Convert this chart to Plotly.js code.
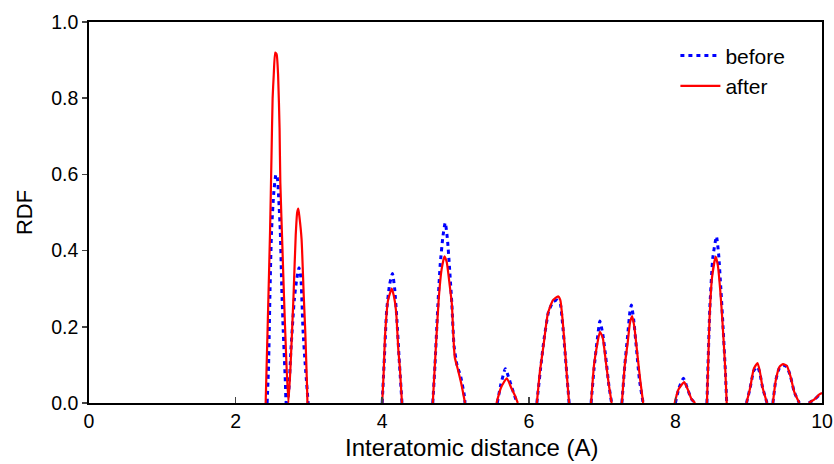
<!DOCTYPE html>
<html>
<head>
<meta charset="utf-8">
<script src="https://cdn.plot.ly/plotly-3.0.1.min.js"></script>
<style>html,body{margin:0;padding:0;background:#fff;}#chart{width:834px;height:464px;}</style>
</head>
<body>
<div id="chart"></div>
<script>
// Interatomic distance (A) for "before" series (null = gap between peaks)
var beforeX = [2.43, 2.45, 2.47, 2.49, 2.52, 2.55, 2.57, 2.59, 2.61, 2.63, 2.65, 2.68, 2.69, 2.72, 2.755, 2.80, 2.83, 2.865, 2.89, 2.92, 2.95, 2.99, null,
  4.0, 4.03, 4.06, 4.10, 4.14, 4.17, 4.20, 4.23, 4.27, null,
  4.69, 4.72, 4.75, 4.79, 4.83, 4.86, 4.89, 4.92, 4.95, 4.98, 5.02, 5.07, 5.12, 5.13, null,
  5.57, 5.62, 5.68, 5.72, 5.77, 5.84, null,
  6.11, 6.16, 6.21, 6.27, 6.33, 6.39, 6.43, 6.46, 6.50, 6.55, null,
  6.85, 6.89, 6.93, 6.97, 7.01, 7.05, 7.09, 7.13, null,
  7.27, 7.31, 7.35, 7.38, 7.40, 7.43, 7.47, 7.51, 7.56, null,
  8.00, 8.05, 8.11, 8.16, 8.22, 8.27, null,
  8.43, 8.445, 8.47, 8.51, 8.56, 8.59, 8.62, 8.65, 8.68, 8.70, null,
  8.97, 9.02, 9.07, 9.12, 9.15, 9.19, 9.25, null,
  9.33, 9.37, 9.42, 9.47, 9.52, 9.57, 9.62, 9.69, null,
  9.82, 9.90, 9.96, 10.0];
var beforeY = [0, 0.10, 0.30, 0.45, 0.55, 0.60, 0.59, 0.53, 0.45, 0.30, 0.19, 0.05, 0, 0.02, 0.14, 0.27, 0.32, 0.355, 0.33, 0.19, 0.10, 0, null,
  0, 0.12, 0.24, 0.31, 0.34, 0.30, 0.22, 0.12, 0, null,
  0, 0.10, 0.22, 0.36, 0.44, 0.473, 0.43, 0.35, 0.26, 0.15, 0.10, 0.07, 0.02, 0, null,
  0, 0.05, 0.09, 0.07, 0.04, 0, null,
  0, 0.09, 0.17, 0.24, 0.265, 0.27, 0.26, 0.21, 0.12, 0, null,
  0, 0.09, 0.16, 0.215, 0.18, 0.12, 0.05, 0, null,
  0, 0.10, 0.18, 0.24, 0.257, 0.22, 0.14, 0.06, 0, null,
  0, 0.04, 0.065, 0.04, 0.01, 0, null,
  0, 0.10, 0.25, 0.38, 0.437, 0.39, 0.30, 0.20, 0.09, 0, null,
  0, 0.04, 0.085, 0.095, 0.08, 0.04, 0, null,
  0, 0.06, 0.092, 0.098, 0.095, 0.07, 0.03, 0, null,
  0, 0.01, 0.02, 0.025];

// Interatomic distance (A) for "after" series (null = gap between peaks)
var afterX = [2.41, 2.44, 2.47, 2.49, 2.505, 2.52, 2.54, 2.56, 2.58, 2.60, 2.61, 2.64, 2.66, 2.69, 2.72, 2.75, 2.79, 2.82, 2.84, 2.855, 2.87, 2.90, 2.93, 2.95, 2.975, 2.98, null,
  4.0, 4.02, 4.04, 4.08, 4.13, 4.16, 4.19, 4.22, 4.24, 4.27, null,
  4.69, 4.71, 4.73, 4.77, 4.81, 4.85, 4.88, 4.92, 4.95, 4.97, 4.99, 5.03, 5.08, 5.13, null,
  5.56, 5.62, 5.70, 5.76, 5.81, 5.85, null,
  6.11, 6.15, 6.20, 6.26, 6.33, 6.40, 6.43, 6.46, 6.49, 6.52, 6.55, null,
  6.85, 6.89, 6.93, 6.97, 7.01, 7.05, 7.09, 7.13, null,
  7.27, 7.31, 7.35, 7.38, 7.41, 7.44, 7.48, 7.52, 7.56, null,
  7.99, 8.04, 8.12, 8.17, 8.22, 8.27, null,
  8.43, 8.445, 8.465, 8.50, 8.55, 8.58, 8.61, 8.64, 8.68, 8.70, null,
  8.97, 9.02, 9.07, 9.12, 9.15, 9.19, 9.25, null,
  9.33, 9.37, 9.42, 9.47, 9.52, 9.57, 9.62, 9.69, null,
  9.82, 9.90, 9.96, 10.0];
var afterY = [0, 0.22, 0.45, 0.65, 0.80, 0.86, 0.92, 0.915, 0.86, 0.72, 0.58, 0.40, 0.28, 0.12, 0, 0.10, 0.28, 0.44, 0.50, 0.51, 0.49, 0.43, 0.28, 0.19, 0.04, 0, null,
  0, 0.08, 0.18, 0.27, 0.30, 0.28, 0.24, 0.14, 0.095, 0, null,
  0, 0.07, 0.14, 0.27, 0.35, 0.385, 0.37, 0.31, 0.26, 0.18, 0.12, 0.09, 0.05, 0, null,
  0, 0.04, 0.065, 0.04, 0.02, 0, null,
  0, 0.08, 0.15, 0.235, 0.27, 0.28, 0.27, 0.22, 0.15, 0.07, 0, null,
  0, 0.10, 0.15, 0.187, 0.17, 0.11, 0.05, 0, null,
  0, 0.10, 0.16, 0.21, 0.228, 0.20, 0.13, 0.06, 0, null,
  0, 0.035, 0.055, 0.035, 0.01, 0, null,
  0, 0.09, 0.22, 0.33, 0.384, 0.36, 0.30, 0.22, 0.09, 0, null,
  0, 0.04, 0.09, 0.105, 0.085, 0.04, 0, null,
  0, 0.06, 0.095, 0.102, 0.098, 0.07, 0.03, 0, null,
  0, 0.01, 0.022, 0.026];

var seriesNames = ["before", "after"];
var xTicks = [0, 2, 4, 6, 8, 10];
var yTicks = [0, 0.2, 0.4, 0.6, 0.8, 1.0];
var xTitle = "Interatomic distance (A)";
var yTitle = "RDF";

var FONT = "Liberation Sans, Arial, sans-serif";

var traces = [
  {x: beforeX, y: beforeY, name: seriesNames[0], type: "scatter", mode: "lines", legendgroup: "a", connectgaps: false,
   line: {color: "#0000ff", width: 3, dash: "4px,4px", shape: "spline", smoothing: 0.5}},
  {x: afterX, y: afterY, name: seriesNames[1], type: "scatter", mode: "lines", legendgroup: "b", connectgaps: false,
   line: {color: "#ff0000", width: 2.2, shape: "spline", smoothing: 0.5}}
];

var layout = {
  width: 834, height: 464,
  margin: {l: 89, r: 12, t: 22, b: 61},
  paper_bgcolor: "#fff", plot_bgcolor: "#fff",
  font: {family: FONT, size: 19, color: "#000"},
  showlegend: true,
  legend: {x: 0.80, y: 0.965, xanchor: "left", yanchor: "top", bgcolor: "rgba(0,0,0,0)", itemwidth: 40,
           font: {family: FONT, size: 21, color: "#000"}, tracegroupgap: 0, traceorder: "grouped"},
  xaxis: {range: [0, 10], tickvals: xTicks, ticktext: xTicks.map(String), ticks: "inside", ticklen: 6, tickwidth: 1.5,
          showline: true, linecolor: "#000", linewidth: 1.8, mirror: true, showgrid: false, zeroline: false,
          tickfont: {family: FONT, size: 19.5}},
  yaxis: {range: [0, 1.0], tickvals: yTicks, ticktext: yTicks.map(function(v){return v.toFixed(1);}), ticks: "outside", ticklen: 5, tickwidth: 1.5,
          showline: true, linecolor: "#000", linewidth: 1.8, mirror: true, showgrid: false, zeroline: false,
          tickfont: {family: FONT, size: 19.5},
          title: {text: yTitle, font: {family: FONT, size: 22}, standoff: 12}},
  annotations: [
    {text: xTitle, xref: "paper", yref: "paper", x: 0.5225, y: -0.158, xanchor: "center", yanchor: "bottom",
     showarrow: false, font: {family: FONT, size: 24, color: "#000"}}
  ]
};

Plotly.newPlot("chart", traces, layout, {displayModeBar: false, staticPlot: true});
</script>
</body>
</html>
